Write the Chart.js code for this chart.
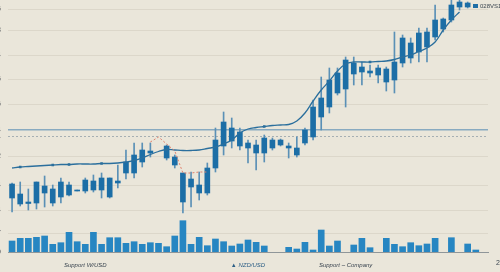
<!DOCTYPE html>
<html>
<head>
<meta charset="utf-8">
<script src="https://cdn.jsdelivr.net/npm/chart.js@4.4.1/dist/chart.umd.min.js"></script>
<style>
  html, body { margin: 0; padding: 0; background: #eae6da; }
  #wrap { width: 500px; height: 272px; position: relative; }
</style>
</head>
<body>
<div id="wrap"><canvas id="chart"></canvas></div>
<script>
// 59 sessions, slot 18 and the last two are empty
const sessions = Array.from({length: 59}, (_, i) => 'S' + (i + 1));

const opens = [0.6336, 0.6296, 0.6300, 0.6298, 0.6332, 0.6326, 0.6310, 0.6334, 0.6322, 0.6322,
  0.6342, 0.6324, 0.6348, 0.6338, 0.6358, 0.6358, 0.6380, 0.6402, null, 0.6412,
  0.6390, 0.6358, 0.6330, 0.6334, 0.6318, 0.6368, 0.6412, 0.6448, 0.6412, 0.6418,
  0.6398, 0.6398, 0.6424, 0.6414, 0.6412, 0.6394, 0.6418, 0.6430, 0.6470, 0.6490,
  0.6518, 0.6526, 0.6578, 0.6560, 0.6562, 0.6554, 0.6566, 0.6544, 0.6578, 0.6618,
  0.6600, 0.6610, 0.6630, 0.6646, 0.6664, 0.6690, 0.6698, null, null];
const closes = [0.6308, 0.6316, 0.6297, 0.6340, 0.6318, 0.6298, 0.6340, 0.6314, 0.6324, 0.6344,
  0.6324, 0.6348, 0.6310, 0.6342, 0.6380, 0.6394, 0.6404, 0.6398, null, 0.6388,
  0.6374, 0.6300, 0.6346, 0.6318, 0.6368, 0.6424, 0.6460, 0.6422, 0.6440, 0.6408,
  0.6414, 0.6428, 0.6408, 0.6424, 0.6408, 0.6408, 0.6444, 0.6490, 0.6508, 0.6544,
  0.6558, 0.6584, 0.6556, 0.6570, 0.6558, 0.6568, 0.6540, 0.6580, 0.6628, 0.6588,
  0.6638, 0.6640, 0.6664, 0.6666, 0.6694, 0.6700, 0.6690, null, null];
const highs = [0.6338, 0.6340, 0.6326, 0.6340, 0.6352, 0.6334, 0.6348, 0.6340, 0.6324, 0.6348,
  0.6354, 0.6358, 0.6348, 0.6374, 0.6404, 0.6418, 0.6418, 0.6418, null, 0.6414,
  0.6394, 0.6358, 0.6360, 0.6360, 0.6378, 0.6448, 0.6480, 0.6468, 0.6448, 0.6424,
  0.6424, 0.6434, 0.6428, 0.6426, 0.6418, 0.6430, 0.6448, 0.6504, 0.6550, 0.6568,
  0.6568, 0.6590, 0.6590, 0.6580, 0.6574, 0.6574, 0.6570, 0.6640, 0.6634, 0.6628,
  0.6648, 0.6648, 0.6694, 0.6668, 0.6704, 0.6704, 0.6700, null, null];
const lows = [0.6280, 0.6292, 0.6284, 0.6286, 0.6290, 0.6292, 0.6298, 0.6312, 0.6322, 0.6318,
  0.6320, 0.6308, 0.6308, 0.6328, 0.6346, 0.6348, 0.6370, 0.6390, null, 0.6384,
  0.6368, 0.6278, 0.6290, 0.6304, 0.6314, 0.6360, 0.6394, 0.6408, 0.6404, 0.6378,
  0.6364, 0.6380, 0.6404, 0.6412, 0.6388, 0.6390, 0.6414, 0.6424, 0.6444, 0.6478,
  0.6514, 0.6490, 0.6534, 0.6534, 0.6550, 0.6538, 0.6522, 0.6518, 0.6570, 0.6578,
  0.6580, 0.6580, 0.6624, 0.6640, 0.6660, 0.6684, 0.6688, null, null];

const movingAvg = [0.6368, 0.6370, 0.6371, 0.6372, 0.6373, 0.6374, 0.6375, 0.6375, 0.6376, 0.6376,
  0.6376, 0.6377, 0.6377, 0.6378, 0.6380, 0.6383, 0.6388, 0.6395, 0.6401, 0.6405,
  0.6404, 0.6403, 0.6403, 0.6404, 0.6407, 0.6410, 0.6416, 0.6424, 0.6438, 0.6446,
  0.6449, 0.6451, 0.6453, 0.6454, 0.6455, 0.6462, 0.6478, 0.6502, 0.6524, 0.6542,
  0.6562, 0.6576, 0.6580, 0.6580, 0.6580, 0.6581, 0.6582, 0.6585, 0.6590, 0.6594,
  0.6601, 0.6608, 0.6620, 0.6644, 0.6664, 0.6680, null, null, null];
const maMarks = [1, 5, 7, 11, 19, 31, 44];

const supportLine = [null, null, null, null, null, null, null, null, null, null,
  null, null, null, null, null, null, null, 0.6420, 0.6430, 0.6416,
  0.6402, 0.6358, 0.6358, 0.6360, 0.6360, null, null, null, null, null,
  null, null, null, null, null, null, null, null, null, null,
  null, null, null, null, null, null, null, null, null, null,
  null, null, null, null, null, null, null, null, null];

const volumes = [110, 137, 137, 147, 160, 77, 93, 197, 103, 77,
  197, 77, 143, 143, 87, 103, 77, 93, 87, 53,
  160, 313, 77, 147, 63, 130, 103, 60, 80, 120,
  97, 60, null, null, 47, 30, 97, 20, 220, 60,
  110, null, 70, 137, 43, null, 137, 77, 53, 93,
  63, 80, 137, null, 143, null, 80, 20, null];

const yTicks = [0.6200, 0.6237, 0.6284, 0.6334, 0.6392, 0.6431, 0.6444, 0.6496, 0.6545, 0.6594, 0.6643, 0.6685];
const resistance = 0.6444;
const pivot = 0.6431;
const bottomLabels = {9: 'Support W/USD', 29: '\u25B2 NZD/USD', 41: 'Support \u2013 Company'};
const seriesName = '028VS1';

const bodies = opens.map((o, i) => o == null ? null : [Math.min(o, closes[i]), Math.max(o, closes[i])]);
const wicks = highs.map((h, i) => h == null ? null : [lows[i], h]);

const smallFont = '"Liberation Sans Narrow", "Liberation Sans", sans-serif';

const overlay = {
  id: 'overlay',
  afterDraw(chart) {
    const c = chart.ctx;
    const area = chart.chartArea;
    c.save();
    c.fillStyle = '#1e6ea6';
    c.fillRect(area.right - 15, area.top + 4, 5, 4);
    c.fillStyle = '#3b4650';
    c.font = '6px ' + smallFont;
    c.textBaseline = 'middle';
    c.fillText(seriesName, area.right - 8, area.top + 6.5);
    c.font = '7px ' + smallFont;
    c.fillText('2', chart.width - 4, area.bottom + 11);
    c.restore();
  }
};

new Chart(document.getElementById('chart'), {
  type: 'bar',
  data: {
    labels: sessions,
    datasets: [
      {
        type: 'line',
        data: supportLine,
        borderColor: '#e0806c',
        borderWidth: 1,
        borderDash: [2, 2],
        pointRadius: 0,
        tension: 0,
        spanGaps: false,
        order: 1
      },
      {
        type: 'line',
        data: movingAvg,
        borderColor: '#2b6f9d',
        borderWidth: 1.3,
        tension: 0.4,
        pointStyle: 'rect',
        pointRadius: ctx => maMarks.includes(ctx.dataIndex) ? 1.8 : 0,
        pointBackgroundColor: '#2b6f9d',
        pointBorderWidth: 0,
        order: 2
      },
      {
        data: bodies,
        backgroundColor: '#1c6ea6',
        barThickness: 5,
        grouped: false,
        order: 3
      },
      {
        data: wicks,
        backgroundColor: '#5a90b6',
        barThickness: 1,
        grouped: false,
        order: 4
      },
      {
        data: volumes,
        yAxisID: 'yv',
        backgroundColor: '#2786c2',
        barThickness: 6,
        grouped: false,
        order: 5
      }
    ]
  },
  options: {
    responsive: true,
    maintainAspectRatio: false,
    animation: false,
    layout: { padding: { left: 0, right: 12, top: 0, bottom: 0 } },
    plugins: { legend: { display: false }, tooltip: { enabled: false } },
    scales: {
      x: {
        grid: { display: false, drawTicks: false },
        border: { display: true, color: '#8f9699', width: 1 },
        ticks: {
          autoSkip: false,
          maxRotation: 0,
          minRotation: 0,
          padding: 9.5,
          font: { size: 6, style: 'italic', family: smallFont },
          color: ctx => ctx.index === 29 ? '#2d5f86' : '#3a4550',
          callback: (v, i) => bottomLabels[i] || ''
        },
        afterFit: s => { s.height = 20; s.paddingLeft = 0; s.paddingRight = 0; }
      },
      y: {
        min: 0.6200,
        max: 0.6704,
        afterBuildTicks: s => { s.ticks = yTicks.map(v => ({ value: v })); },
        afterFit: s => { s.width = 8; s.paddingTop = 0; s.paddingBottom = 0; },
        border: {
          display: false,
          dash: ctx => ctx.tick && ctx.tick.value === pivot ? [2, 2] : []
        },
        grid: {
          drawTicks: false,
          color: ctx => {
            const v = ctx.tick && ctx.tick.value;
            if (v === resistance) return '#88aac0';
            if (v === pivot) return '#a6afb3';
            if (v === 0.6200) return 'rgba(0,0,0,0)';
            return '#dcd7ca';
          },
          lineWidth: ctx => ctx.tick && ctx.tick.value === resistance ? 1.5 : 1
        },
        ticks: {
          padding: 7,
          color: '#55595e',
          font: { size: 7, family: smallFont },
          callback: v => v.toFixed(4)
        }
      },
      yv: {
        display: false,
        min: 0,
        max: 2520
      }
    }
  },
  plugins: [overlay]
});
</script>
</body>
</html>
